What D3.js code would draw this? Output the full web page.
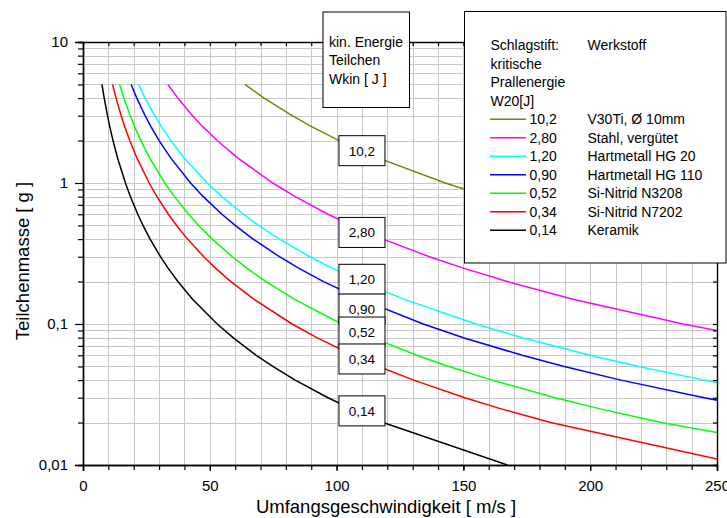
<!DOCTYPE html>
<html>
<head>
<meta charset="utf-8">
<script src="https://cdn.jsdelivr.net/npm/d3@7/dist/d3.min.js"></script>
<style>
  html, body { margin: 0; padding: 0; background: #fff; }
  svg { display: block; font-family: "Liberation Sans", Arial, sans-serif; }
</style>
</head>
<body>
<svg id="chart" width="727" height="518"></svg>
<script>
// Particle mass nodes [g] shared by all curves
const massNodes = [5, 4, 3, 2.5, 2, 1.5, 1, 0.8, 0.6, 0.5, 0.4, 0.3, 0.25, 0.2, 0.15, 0.1,
                   0.08, 0.06, 0.05, 0.04, 0.03, 0.025, 0.02, 0.01];

// Circumferential speed [m/s] at each mass node, one array per critical impact energy
const speed102 = [63.87, 71.41, 82.46, 90.33, 101.0, 116.62, 142.83, 159.69, 184.39, 201.99, 225.83, 260.77];
const speed280 = [33.47, 37.42, 43.20, 47.33, 52.92, 61.10, 74.83, 83.67, 96.61, 105.83, 118.32, 136.63,
                  149.67, 167.33, 193.22, 236.64, 264.58];
const speed120 = [21.91, 24.49, 28.28, 30.98, 34.64, 40.00, 48.99, 54.77, 63.25, 69.28, 77.46, 89.44,
                  97.98, 109.54, 126.49, 154.92, 173.21, 200.00, 219.09, 244.95, 282.84];
const speed090 = [18.97, 21.21, 24.49, 26.83, 30.00, 34.64, 42.43, 47.43, 54.77, 60.00, 67.08, 77.46,
                  84.85, 94.87, 109.54, 134.16, 150.00, 173.21, 189.74, 212.13, 244.95, 268.33];
const speed052 = [14.42, 16.12, 18.62, 20.40, 22.80, 26.33, 32.25, 36.06, 41.63, 45.61, 50.99, 58.88,
                  64.50, 72.11, 83.27, 101.98, 114.02, 131.66, 144.22, 161.25, 186.19, 203.96, 228.04, 322.49];
const speed034 = [11.66, 13.04, 15.06, 16.49, 18.44, 21.29, 26.08, 29.15, 33.67, 36.88, 41.23, 47.61,
                  52.15, 58.31, 67.33, 82.46, 92.20, 106.46, 116.62, 130.38, 150.55, 164.92, 184.39, 260.77];
const speed014 = [7.48, 8.37, 9.66, 10.58, 11.83, 13.66, 16.73, 18.71, 21.60, 23.66, 26.46, 30.55,
                  33.47, 37.42, 43.20, 52.92, 59.16, 68.31, 74.83, 83.67, 96.61, 105.83, 118.32, 167.33];

const energyLabels = ["10,2", "2,80", "1,20", "0,90", "0,52", "0,34", "0,14"];
const materials = ["V30Ti, Ø 10mm", "Stahl, vergütet", "Hartmetall HG 20", "Hartmetall HG 110",
                   "Si-Nitrid N3208", "Si-Nitrid N7202", "Keramik"];

// Where the value tags sit on their curves
const tagSpeed = 110;
const tagMass = [1.695, 0.446, 0.2075, 0.1277, 0.0877, 0.0565, 0.0242];

// Axis ticks
const xMajorTicks = [0, 50, 100, 150, 200, 250];
const xTickLabels = ["0", "50", "100", "150", "200", "250"];
const yMajorTicks = [0.01, 0.1, 1, 10];
const yTickLabels = ["0,01", "0,1", "1", "10"];
const yMinorFactors = [2, 3, 4, 5, 6, 7, 8, 9];

const legendHeader = [["Schlagstift:", "Werkstoff"], ["kritische", ""], ["Prallenergie", ""], ["W20[J]", ""]];
const energyBoxLines = ["kin. Energie", "Teilchen", "Wkin [ J ]"];

const palette = ["#808000", "#ff00ff", "#00ffff", "#0000ff", "#00ff00", "#ff0000", "#000000"];

const seriesSpeeds = [speed102, speed280, speed120, speed090, speed052, speed034, speed014];
const series = seriesSpeeds.map((sp, i) => ({
  label: energyLabels[i],
  material: materials[i],
  points: sp.map((v, j) => [v, massNodes[j]])
}));

const svg = d3.select("#chart");
const L = 83, R = 717, T = 42, B = 465;

const x = d3.scaleLinear().domain([0, 250]).range([L, R]);
const y = d3.scaleLog().domain([0.01, 10]).range([B, T]);

const xMinor = d3.range(10, 250, 10);
const yMinor = [];
[0.01, 0.1, 1].forEach(d => yMinorFactors.forEach(f => yMinor.push(d * f)));

// Grid
const grid = svg.append("g").attr("stroke", "#c8c8c8").attr("stroke-width", 1).attr("shape-rendering", "crispEdges");
grid.selectAll("line.v").data(xMinor).join("line")
  .attr("x1", d => Math.round(x(d)) + 0.5).attr("x2", d => Math.round(x(d)) + 0.5)
  .attr("y1", T).attr("y2", B);
grid.selectAll("line.h").data(yMinor.concat([0.1, 1])).join("line")
  .attr("y1", d => Math.round(y(d)) + 0.5).attr("y2", d => Math.round(y(d)) + 0.5)
  .attr("x1", L).attr("x2", R);

// Curves
svg.append("clipPath").attr("id", "plotClip")
  .append("rect").attr("x", L).attr("y", T).attr("width", R - L).attr("height", B - T);

const line = d3.line().x(d => x(d[0])).y(d => y(d[1]));
svg.append("g").attr("clip-path", "url(#plotClip)")
  .selectAll("path").data(series).join("path")
  .attr("d", d => line(d.points))
  .attr("fill", "none")
  .attr("stroke", (d, i) => palette[i])
  .attr("stroke-width", 1.5);

// Axes
const axisG = svg.append("g");
axisG.append("g").attr("transform", `translate(0,${B})`)
  .call(d3.axisBottom(x).tickValues(xMinor).tickSize(5).tickFormat(""));
axisG.append("g").attr("transform", `translate(0,${B})`)
  .call(d3.axisBottom(x).tickValues(xMajorTicks).tickSize(6)
    .tickFormat((d, i) => xTickLabels[i]).tickPadding(9));
axisG.append("g").attr("transform", `translate(0,${T})`)
  .call(d3.axisTop(x).tickValues(xMinor).tickSize(-4).tickFormat(""));
axisG.append("g").attr("transform", `translate(${L},0)`)
  .call(d3.axisLeft(y).tickValues(yMinor).tickSize(5).tickFormat(""));
axisG.append("g").attr("transform", `translate(${L},0)`)
  .call(d3.axisLeft(y).tickValues(yMajorTicks).tickSize(8)
    .tickFormat((d, i) => yTickLabels[i]).tickPadding(7));
axisG.append("g").attr("transform", `translate(${R},0)`)
  .call(d3.axisRight(y).tickValues(yMinor.concat(yMajorTicks)).tickSize(-4).tickFormat(""));

axisG.selectAll(".domain").attr("stroke", "#000").attr("stroke-width", 1.4);
axisG.selectAll(".tick line").attr("stroke", "#000").attr("stroke-width", 1.2);
axisG.selectAll(".tick text").attr("font-size", 15).attr("fill", "#000")
  .attr("font-family", "'Liberation Sans', Arial, sans-serif");

// Axis titles
svg.append("text").attr("x", (L + R) / 2 - 14).attr("y", 513)
  .attr("text-anchor", "middle").attr("font-size", 18.5).text("Umfangsgeschwindigkeit [ m/s ]");
svg.append("text").attr("transform", `translate(28.5,${261}) rotate(-90)`)
  .attr("text-anchor", "middle").attr("font-size", 18.5).text("Teilchenmasse [ g ]");

// Value tags on the curves
const tagW = 46, tagH = 30;
const tags = svg.append("g").selectAll("g").data(series).join("g")
  .attr("transform", (d, i) => `translate(${x(tagSpeed)},${y(tagMass[i])})`);
tags.append("rect").attr("x", -tagW / 2).attr("y", -tagH / 2).attr("width", tagW).attr("height", tagH)
  .attr("fill", "#fff").attr("stroke", "#000").attr("stroke-width", 1);
tags.append("text").attr("text-anchor", "middle").attr("dy", "0.36em")
  .attr("font-size", 13.5).text(d => d.label);

// Energy caption box
const eb = svg.append("g");
eb.append("rect").attr("x", 323).attr("y", 12).attr("width", 86.5).attr("height", 95.5)
  .attr("fill", "#fff").attr("stroke", "#000").attr("stroke-width", 1);
eb.selectAll("text").data(energyBoxLines).join("text")
  .attr("x", 329).attr("y", (d, i) => 46.5 + i * 18.7)
  .attr("font-size", 14).text(d => d);

// Legend
const lg = svg.append("g");
lg.append("rect").attr("x", 464.5).attr("y", 11.5).attr("width", 261.5).attr("height", 251.5)
  .attr("fill", "#fff").attr("stroke", "#000").attr("stroke-width", 1);
const rowY = i => 50.3 + i * 18.5;
legendHeader.forEach((h, i) => {
  lg.append("text").attr("x", 490.5).attr("y", rowY(i)).attr("font-size", 14).text(h[0]);
  if (h[1]) lg.append("text").attr("x", 587.5).attr("y", rowY(i)).attr("font-size", 14).text(h[1]);
});
const rows = lg.selectAll("g.row").data(series).join("g")
  .attr("transform", (d, i) => `translate(0,${rowY(i + legendHeader.length)})`);
rows.append("line").attr("x1", 490).attr("x2", 526).attr("y1", -5).attr("y2", -5)
  .attr("stroke", (d, i) => palette[i]).attr("stroke-width", 1.5);
rows.append("text").attr("x", 529.5).attr("font-size", 14).text(d => d.label);
rows.append("text").attr("x", 587.5).attr("font-size", 14).text(d => d.material);
</script>
</body>
</html>
